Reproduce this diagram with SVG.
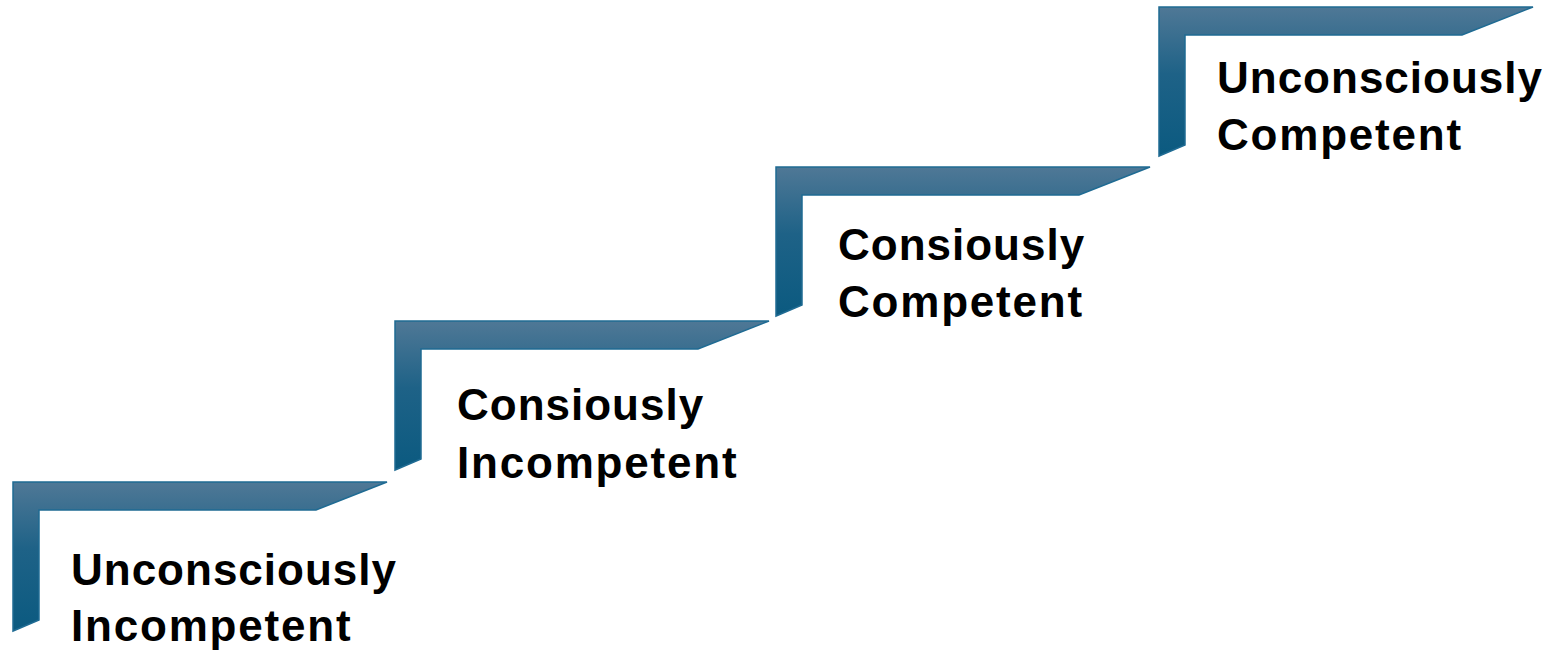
<svg xmlns="http://www.w3.org/2000/svg" width="1552" height="652" viewBox="0 0 1552 652">
<defs>
<linearGradient id="g" x1="0" y1="0" x2="0" y2="1">
<stop offset="0" stop-color="#4f7896"/>
<stop offset="0.45" stop-color="#1e6287"/>
<stop offset="1" stop-color="#0b5a80"/>
</linearGradient>
<path id="step" d="M0,0 L374,0 L303,28 L26,28 L26,138 L0,149 Z"/>
</defs>
<style>
.s{fill:url(#g);stroke:#1f6b93;stroke-width:1.5;stroke-linejoin:miter}
.t{font-family:"Liberation Sans",Arial,sans-serif;font-weight:bold;font-size:44px;letter-spacing:1px;fill:#000}
.w{letter-spacing:1.8px}
</style>
<rect width="1552" height="652" fill="#fff"/>
<g id="step1">
<use href="#step" class="s" transform="translate(13,482)"/>
<text class="t" x="71" y="585">Unconsciously</text>
<text class="t w" x="71" y="641">Incompetent</text>
</g>
<g id="step2">
<use href="#step" class="s" transform="translate(395,321)"/>
<text class="t" x="457" y="420">Consiously</text>
<text class="t w" x="457" y="478">Incompetent</text>
</g>
<g id="step3">
<use href="#step" class="s" transform="translate(776,167)"/>
<text class="t" x="838" y="260">Consiously</text>
<text class="t w" x="838" y="317">Competent</text>
</g>
<g id="step4">
<use href="#step" class="s" transform="translate(1159,7)"/>
<text class="t" x="1217" y="93">Unconsciously</text>
<text class="t w" x="1217" y="150">Competent</text>
</g>
<g id="connectors"/>
</svg>
